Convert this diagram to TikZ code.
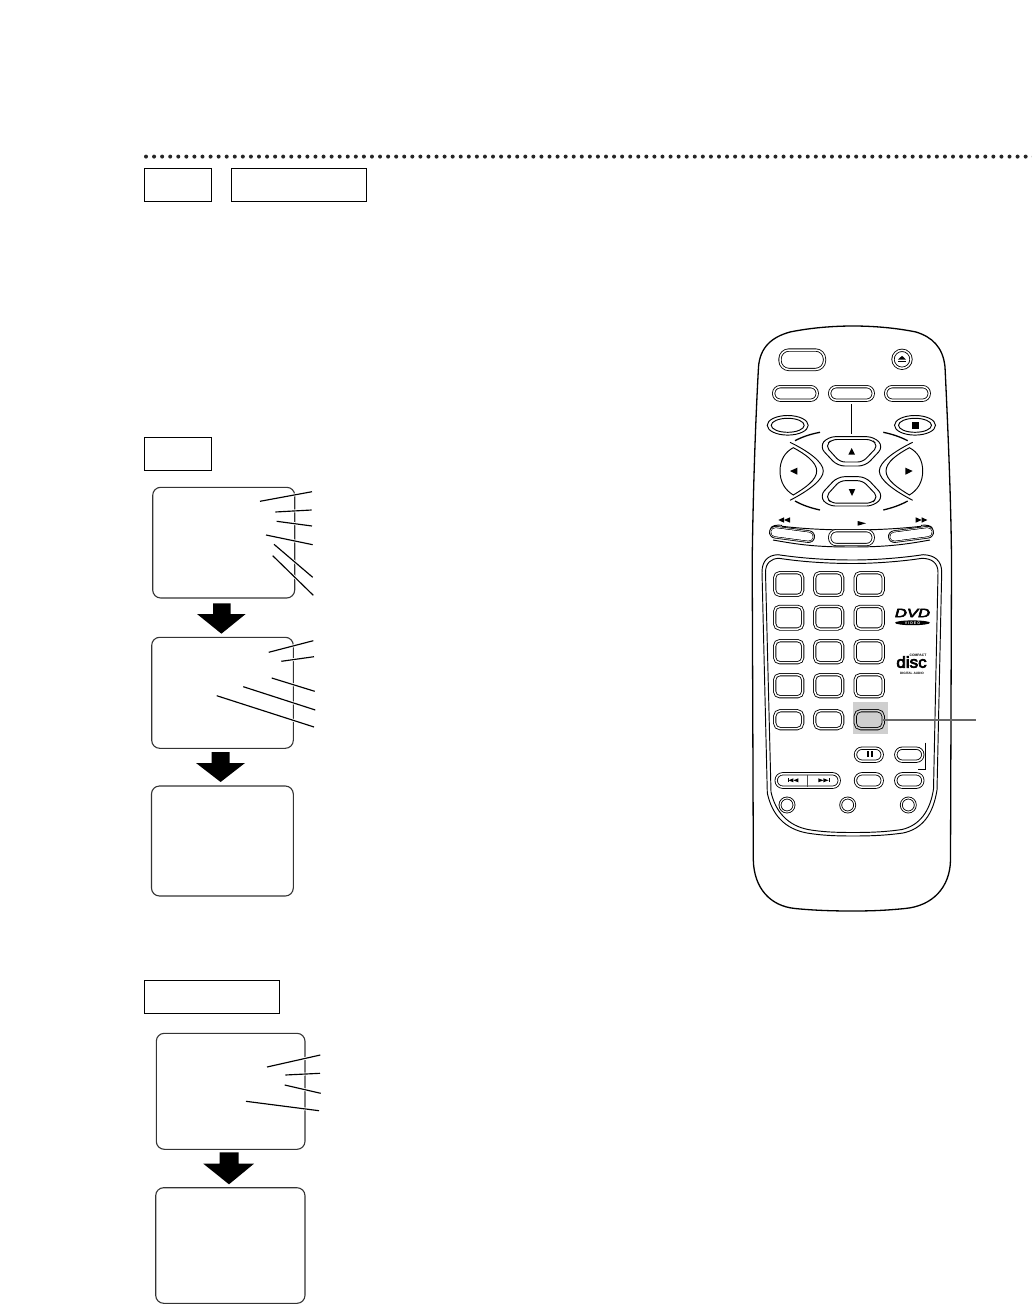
\documentclass[tikz,border=0pt]{standalone}
\usepackage{fontspec}
\setmainfont{Liberation Sans}
\newfontfamily\logofont[FakeBold=4]{Liberation Sans}
\tikzset{
  x=1pt,y=-1pt,
  frame/.style={draw=black,line width=1.1pt,inner sep=0pt,outer sep=0pt},
  screen/.style={draw=black!80,line width=1.1pt,rounded corners=8pt,inner sep=0pt,outer sep=0pt},
  leader/.style={line width=1.15pt,black,preaction={draw=white,line width=2.9pt}},
  dbl/.style={draw=black,double=white,double distance=1.5pt,line width=.85pt},
  thin line/.style={draw=black,line width=.95pt},
  body line/.style={draw=black,line width=1.3pt},
  glyph/.style={fill=black,draw=none},
  big arrow/.style={fill=black,draw=none}
}
\newcommand{\labbox}[6][frame]{%
  \pgfmathsetmacro{\bxc}{(#3+#5)/2}\pgfmathsetmacro{\byc}{(#4+#6)/2}%
  \pgfmathsetmacro{\bxw}{#5-#3}\pgfmathsetmacro{\bxh}{#6-#4}%
  \node[#1,minimum width=\bxw pt,minimum height=\bxh pt] (#2) at (\bxc,\byc) {};}
\newcommand{\ldr}[5]{%
  \coordinate (#1a) at (#2,#3);\coordinate (#1b) at (#4,#5);\draw[leader] (#1a) -- (#1b);}
\newcommand{\pill}[6][dbl]{\draw[#1,rounded corners=#6pt] (#2,#3) rectangle (#4,#5);}
\newcommand{\bigarrow}[8]{% shaftL shaftR top neck headL headR tipX tipY
  \fill[big arrow] (#1,#3) -- (#2,#3) -- (#2,#4) -- (#6,#4) -- (#7,#8) -- (#5,#4) -- (#1,#4) -- cycle;}
\newcommand{\slantpill}[4]{%
  \foreach \lw/\lc in {12.6/black,11/white,9.6/black,8.2/white}
    \draw[line width=\lw pt,color=\lc,line cap=round] (#1,#2) -- (#3,#4);}
\begin{document}
\begin{tikzpicture}
\useasboundingbox (0,0) rectangle (1032,1305);
\fill[white] (0,0) rectangle (1032,1305);
% dotted rule
\foreach \k in {0,...,110} \fill[black!85] (146+\k*8.07,156.6) circle (2);
% label boxes
\labbox{boxa}{144.5}{168.5}{211.5}{201.5}
\labbox{boxb}{231.5}{168.5}{366.5}{201.5}
\labbox{boxc}{144.5}{437.5}{211.5}{470.5}
\labbox{boxd}{144.5}{980.5}{279.5}{1013.5}
% screens
\labbox[screen]{scra}{152.7}{487.3}{294.7}{598}
\labbox[screen]{scrb}{151.7}{637.3}{293.3}{748.3}
\labbox[screen]{scrc}{151.5}{786}{293.3}{896}
\labbox[screen]{scrd}{156.3}{1033.3}{305}{1149.3}
\labbox[screen]{scre}{155.7}{1187.7}{305}{1303.3}
% arrows
\bigarrow{213}{230.7}{603.3}{614}{197}{245.7}{221.4}{633.7}
\bigarrow{211.7}{229.7}{752}{763}{196}{245}{220.6}{782}
\bigarrow{219.7}{238.7}{1152.3}{1163.7}{203.3}{254}{229}{1184.3}
% leaders
\ldr{a1}{260}{501.3}{312}{491.7}
\ldr{a2}{275.3}{512}{311.7}{510}
\ldr{a3}{276.7}{521.3}{312}{526}
\ldr{a4}{266}{535}{312.7}{544.7}
\ldr{a5}{274}{544.3}{312.7}{577.3}
\ldr{a6}{272.7}{555.7}{313.3}{595.3}
\ldr{b1}{268.7}{652.3}{313.3}{640.7}
\ldr{b2}{281.3}{661.3}{314}{656.7}
\ldr{b3}{271.7}{678}{314.7}{691.3}
\ldr{b4}{243.3}{686.7}{315.3}{710}
\ldr{b5}{216.7}{695.7}{314}{727}
\ldr{d1}{267}{1067}{320.3}{1055}
\ldr{d2}{285.3}{1075}{320}{1073.3}
\ldr{d3}{284.7}{1085}{320.7}{1093.3}
\ldr{d4}{246}{1101.3}{319}{1110.7}
% remote body
\draw[body line,fill=white] (758.5,367) .. controls (760,347) and (772,337) .. (790,332)
  .. controls (812,327.5) and (835,326) .. (853,326)
  .. controls (871,326) and (894,327.5) .. (916,332)
  .. controls (932,337) and (943,347) .. (945,367)
  .. controls (948,430) and (951,500) .. (951.5,560)
  -- (950.5,860)
  .. controls (950,888) and (932,906) .. (905,908.5)
  .. controls (885,910.5) and (870,911) .. (852,911)
  .. controls (835,911) and (815,910.5) .. (795,908.5)
  .. controls (770,906) and (754,888) .. (753.3,860)
  -- (752.2,560)
  .. controls (753,500) and (755,430) .. (758.5,367) -- cycle;
% top buttons
\pill{780}{350}{824.5}{369.5}{9}
\draw[dbl] (902,359.3) circle (9);
\fill[glyph] (898,359.6) -- (906,359.6) -- (902,355.8) -- cycle;
\fill[glyph] (898,360.8) rectangle (906,362.2);
\pill{773.7}{386.7}{817.2}{400.2}{6.5}
\pill{829.7}{386.7}{873.2}{400.2}{6.5}
\pill{885.7}{386.7}{929.2}{400.2}{6.5}
\coordinate (vt) at (851.3,404);\coordinate (vb) at (851.3,434);
\draw[thin line] (vt) -- (vb);
\draw[thin line] (787.7,425.3) ellipse (20.5 and 9.8);
\draw[thin line] (787.7,425.3) ellipse (16.5 and 7);
\draw[thin line] (915,425.3) ellipse (20.5 and 9.8);
\draw[thin line] (915,425.3) ellipse (16.5 and 7);
\fill[glyph] (912,421.8) rectangle (919.2,429);
% direction pad
\draw[body line] (795,440.7) .. controls (803,436.5) and (811,434) .. (820,432.3);
\draw[body line] (907.7,440.7) .. controls (899.5,436.5) and (891.5,434) .. (883.3,432.3);
\draw[body line] (795,501) .. controls (803,505.5) and (811,508) .. (820,510);
\draw[body line] (907.7,501) .. controls (899.5,505.5) and (891.5,508) .. (883.3,510);
\draw[thin line,rounded corners=7pt] (828,436.7) -- (874,436.7) -- (883.5,446.7) -- (865.5,466) -- (837.5,466) -- (819.5,446.7) -- cycle;
\draw[thin line,rounded corners=5pt] (831.7,439.5) -- (871.7,439.5) -- (878,446) -- (862.7,462) -- (840,462) -- (825.5,446) -- cycle;
\draw[thin line,rounded corners=7pt] (828,506) -- (874,506) -- (883.5,496) -- (865.5,476.7) -- (837.5,476.7) -- (819.5,496) -- cycle;
\draw[thin line,rounded corners=5pt] (831.7,503.2) -- (871.7,503.2) -- (878,496.7) -- (862.7,480.7) -- (840,480.7) -- (825.5,496.7) -- cycle;
\fill[glyph] (848.3,454.7) -- (855,454.7) -- (851.7,448) -- cycle;
\fill[glyph] (848.7,489) -- (855.3,489) -- (852,496) -- cycle;
\draw[thin line] (790,442.3) .. controls (808,451) and (823.3,462) .. (823.3,471) .. controls (823.3,480) and (808,491) .. (790,500.3);
\draw[thin line] (793.3,447.7) .. controls (805,454) and (816.7,462) .. (816.7,471) .. controls (816.7,480) and (805,488) .. (793.3,495) .. controls (785,490) and (780,482) .. (780,471) .. controls (780,460) and (785,452) .. (793.3,447.7) -- cycle;
\fill[glyph] (790,471) -- (797.3,467.7) -- (797.3,474.7) -- cycle;
\draw[thin line] (912.7,442.3) .. controls (894.7,451) and (879.3,462) .. (879.3,471) .. controls (879.3,480) and (894.7,491) .. (912.7,500.3);
\draw[thin line] (909.4,447.7) .. controls (897.7,454) and (886,462) .. (886,471) .. controls (886,480) and (897.7,488) .. (909.4,495) .. controls (917.7,490) and (922.7,482) .. (922.7,471) .. controls (922.7,460) and (917.7,452) .. (909.4,447.7) -- cycle;
\fill[glyph] (912.7,471) -- (905.4,467.7) -- (905.4,474.7) -- cycle;
% transport row
\draw[thin line] (773,540) .. controls (798,544.5) and (815,547) .. (851,547) .. controls (887,547) and (905,544.5) .. (930,540);
\draw[thin line] (782,526.3) .. controls (805,529) and (830,530) .. (851,530) .. controls (872,530) and (897,529) .. (921,526.3);
\slantpill{775.3}{532.2}{808.7}{536.6}
\slantpill{927.7}{532.2}{894.3}{536.6}
\draw[thin line] (770.5,528.5) .. controls (772,525.5) and (776,524.8) .. (782,525.3);
\draw[thin line] (932.5,528.5) .. controls (931,525.5) and (927,524.8) .. (921,525.3);
\pill[dbl,fill=white]{829.7}{530.7}{873.2}{544.5}{6.5}
\fill[glyph] (778.3,520) -- (784,517.3) -- (784,522.7) -- cycle;
\fill[glyph] (784,520) -- (790,517.3) -- (790,522.7) -- cycle;
\fill[glyph] (866,523.3) -- (857.7,521) -- (857.7,525.7) -- cycle;
\fill[glyph] (921.7,520) -- (915.7,517.3) -- (915.7,522.7) -- cycle;
\fill[glyph] (927.3,520) -- (921.7,517.3) -- (921.7,522.7) -- cycle;
% keypad panel
\draw[thin line] (762,572) .. controls (762,561) and (768,555) .. (778,554.7)
  .. controls (800,558) and (825,560) .. (853,560) .. controls (877,560) and (905,557.5) .. (923,554.7)
  .. controls (935,555) and (941.7,561) .. (941.7,572)
  -- (937,790) .. controls (933,815) and (922,829) .. (903,833)
  .. controls (885,835.5) and (870,836) .. (853,836) .. controls (836,836) and (822,835.5) .. (807,833)
  .. controls (785,829) and (772,815) .. (767.3,793) -- cycle;
\draw[thin line] (765.5,572.5) .. controls (765.5,563) and (771,558.5) .. (779,558.3)
  .. controls (800,561.5) and (825,563.5) .. (853,563.5) .. controls (877,563.5) and (905,561) .. (922,558.3)
  .. controls (932,558.5) and (938,563) .. (938,572.5)
  -- (933.5,789) .. controls (930,812) and (919,825.5) .. (902,829.5)
  .. controls (885,832) and (870,832.5) .. (853,832.5) .. controls (836,832.5) and (822,832) .. (808,829.5)
  .. controls (788,825.5) and (775.5,812) .. (771,792) -- cycle;
% highlight
\fill[black!19] (853,702) rectangle (888,734);
% number buttons
\foreach \xa/\xb in {774.7/802.7,814.7/842.7,855.2/883.2} {
  \foreach \ya/\yb in {572.7/595.3,606.4/629,640.7/662.7,674.7/696.7} {
    \pill{\xa}{\ya}{\xb}{\yb}{5}
  }
}
\pill{774.7}{710.7}{802.7}{728.7}{5.5}
\pill{814.7}{710.7}{842.7}{728.7}{5.5}
\draw[dbl,double=black!19,rounded corners=5.5pt] (855.2,710.7) rectangle (883.2,728.7);
\coordinate (hi) at (883.3,720);\coordinate (hiend) at (976,720);
\draw[line width=2pt,black!60] (hi) -- (hiend);
% lower buttons
\pill{855.5}{748.2}{882.2}{761.2}{6.5}
\fill[glyph] (866.7,751) rectangle (868.7,756.8);
\fill[glyph] (870.7,751) rectangle (872.7,756.8);
\pill{895.8}{748.2}{922.8}{761.2}{6.5}
\draw[thin line] (925.7,742.7) -- (925.7,769.3) -- (918.3,769.3);
\pill{776.2}{773.8}{839.2}{787.2}{6.5}
\draw[line width=.8pt,black!70] (807.7,774.5) -- (807.7,786.5);
\fill[glyph] (787.7,778.3) rectangle (788.5,782.3);
\fill[glyph] (788.5,780.3) -- (793.4,778.3) -- (793.4,782.3) -- cycle;
\fill[glyph] (793.4,780.3) -- (798.3,778.3) -- (798.3,782.3) -- cycle;
\fill[glyph] (828.5,778.3) rectangle (829.3,782.3);
\fill[glyph] (828.5,780.3) -- (823.4,778.3) -- (823.4,782.3) -- cycle;
\fill[glyph] (823.4,780.3) -- (818.3,778.3) -- (818.3,782.3) -- cycle;
\pill{855.5}{773.8}{882.2}{787.2}{6.5}
\pill{895.8}{773.8}{922.8}{787.2}{6.5}
\foreach \cxx in {787,847.7,908.3} \draw[dbl,double distance=1.1pt] (\cxx,805) circle (7);
% logos
\node[inner sep=0pt,xscale=1.45,yscale=1.05] (dvd) at (912.5,613) {\fontsize{11.5}{11.5}\selectfont\logofont\itshape DVD};
\fill[black] (912.5,622.8) ellipse (17.5 and 2.4);
\node[inner sep=0pt,text=white] (vid) at (912.5,622.8) {\fontsize{3.6}{4}\selectfont\bfseries V I D E O};
\node[inner sep=0pt,yscale=1.45,xscale=1.55] (dsc) at (911.5,662) {\fontsize{11}{11}\selectfont\logofont disc};
\node[inner sep=0pt] (cpt) at (918,655.3) {\fontsize{3.4}{4}\selectfont\bfseries COMPACT};
\node[inner sep=0pt] (dga) at (912,673) {\fontsize{3.2}{3.5}\selectfont\bfseries DIGITAL AUDIO};
\end{tikzpicture}
\end{document}
